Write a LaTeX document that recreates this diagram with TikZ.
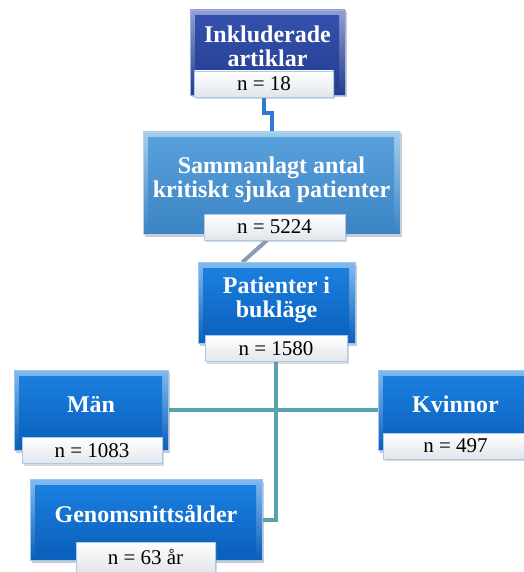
\documentclass[tikz,border=0pt]{standalone}
\usepackage{fontspec}
\setmainfont{Liberation Serif}
\usetikzlibrary{shadows,backgrounds}
\definecolor{navyblue}{HTML}{3452AE}
\definecolor{navyblue2}{HTML}{243D8F}
\definecolor{skyblue}{HTML}{5AA2DC}
\definecolor{skyblue2}{HTML}{3B84C4}
\definecolor{boxblue}{HTML}{1C82E2}
\definecolor{boxblue2}{HTML}{0A5EBA}
\definecolor{linkblue}{HTML}{2E7BD0}
\definecolor{linkgrey}{HTML}{8C9CB3}
\definecolor{linkteal}{HTML}{5AA3AC}
\definecolor{lblgrey}{HTML}{E1E5EB}
\definecolor{lblrim}{HTML}{A9CBEB}

\begin{document}
\begin{tikzpicture}[x=1pt, y=-1pt,
    box/.style 2 args={rectangle, top color=#1!55!white, bottom color=#2,
        draw=#1!45!white, line width=0.5pt, inner sep=0pt,
        drop shadow={opacity=0.4, shadow xshift=2pt, shadow yshift=-2.5pt},
        text=white, align=center, text depth=12pt,
        font=\bfseries\fontsize{24}{24}\selectfont,
        path picture={\shade[top color=#1, bottom color=#2]
            ([shift={(5pt,-6pt)}]path picture bounding box.north west) rectangle
            ([shift={(-6pt,5pt)}]path picture bounding box.south east);}},
    lbl/.style={rectangle, top color=white, bottom color=lblgrey,
        draw=lblrim, line width=0.8pt, inner sep=0pt,
        minimum width=140pt, minimum height=26pt,
        font=\fontsize{21}{21}\selectfont,
        drop shadow={opacity=0.3, shadow xshift=1.5pt, shadow yshift=-2pt}},
    link/.style={line width=4pt}]
    \useasboundingbox (0,0) rectangle (523,572);
    \node[box={navyblue}{navyblue2}, minimum width=155pt, minimum height=85pt] (incl) at (267.5,52.5) {Inkluderade\\artiklar};
    \node[lbl, minimum width=139pt] (nincl) at (264,84) {n = 18};
    \node[box={skyblue}{skyblue2}, minimum width=257pt, minimum height=102pt] (total) at (271.5,183) {Sammanlagt antal\\kritiskt sjuka patienter};
    \node[lbl, minimum width=141pt] (ntotal) at (274.5,227) {n = 5224};
    \node[box={boxblue}{boxblue2}, minimum width=157pt, minimum height=81pt] (prone) at (276.5,303) {Patienter i\\bukläge};
    \node[lbl, minimum width=142pt] (nprone) at (276,348.5) {n = 1580};
    \node[box={boxblue}{boxblue2}, minimum width=154pt, minimum height=80pt] (men) at (91,410) {Män};
    \node[lbl] (nmen) at (92,450.5) {n = 1083};
    \node[box={boxblue}{boxblue2}, minimum width=155pt, minimum height=80pt] (women) at (455.5,410) {Kvinnor};
    \node[lbl, minimum width=145pt] (nwomen) at (455.5,446) {n = 497};
    \node[box={boxblue}{boxblue2}, minimum width=232pt, minimum height=81pt] (age) at (146,519.5) {Genomsnittsålder};
    \node[lbl, minimum width=139pt, minimum height=30pt] (nage) at (145.5,557) {n = 63 år};
    % connectors behind the boxes
    \begin{scope}[on background layer]
        \draw[link, linkblue] (nincl.south) -- ++(0,16) -| (total.north);
        \draw[link, linkgrey] (ntotal.240) -- (prone.130);
        \draw[link, linkteal] (nprone.south) |- (age.east);
        \draw[link, linkteal] (men.east) -- (women.west);
    \end{scope}
\end{tikzpicture}
\end{document}
